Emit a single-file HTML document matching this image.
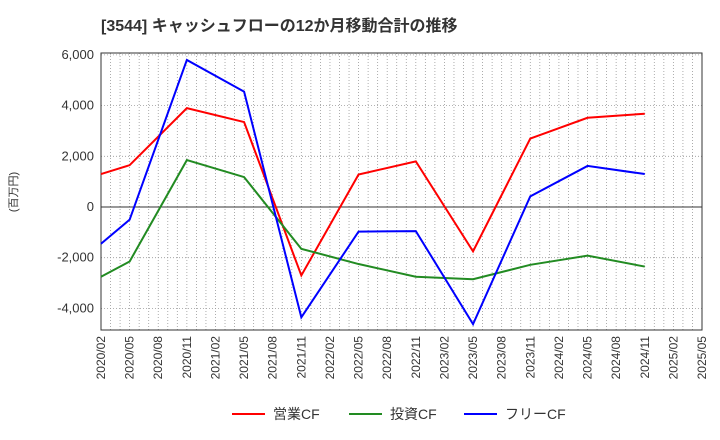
<!DOCTYPE html>
<html><head><meta charset="utf-8"><style>
body{margin:0;background:#fff;}
svg{display:block;font-family:"Liberation Sans","Noto Sans CJK JP",sans-serif;}
</style></head><body>
<svg id="c" width="720" height="440">
<text x="101" y="31" font-size="16" font-weight="bold" fill="#333">[3544]  キャッシュフローの12か月移動合計の推移</text>
<text transform="translate(17,192) rotate(-90)" text-anchor="middle" font-size="11" fill="#333">(百万円)</text>
<g id="grid"></g><g id="axes"></g><g id="series"></g><g id="legend"></g>
</svg>
<script>
const xLabels=["2020/02","2020/05","2020/08","2020/11","2021/02","2021/05","2021/08","2021/11","2022/02","2022/05","2022/08","2022/11","2023/02","2023/05","2023/08","2023/11","2024/02","2024/05","2024/08","2024/11","2025/02","2025/05"];
const yTicks=[6000,4000,2000,0,-2000,-4000];
const pointIdx=[0,1,3,5,7,9,11,13,15,17,19];
const opCF=[1300,1650,3900,3350,-2700,1280,1800,-1750,2700,3520,3680];
const invCF=[-2750,-2150,1850,1180,-1650,-2250,-2750,-2850,-2280,-1920,-2350];
const freeCF=[-1450,-500,5800,4550,-4350,-970,-950,-4620,420,1620,1300];
const seriesNames=["営業CF","投資CF","フリーCF"];
const NS="http://www.w3.org/2000/svg";
const L=101,R=702,T=53,B=330;
const xs=i=>L+i*(R-L)/21;
const ys=v=>207-v*(50.7/2000);
function mk(tag,attrs,parent){const e=document.createElementNS(NS,tag);for(const k in attrs)e.setAttribute(k,attrs[k]);parent.appendChild(e);return e;}
const grid=document.getElementById('grid'),axes=document.getElementById('axes'),ser=document.getElementById('series'),leg=document.getElementById('legend');
for(let m=0;m<=63;m++){const x=L+m*(R-L)/63;const g=mk('line',{x1:x,x2:x,y1:T,y2:B,stroke:'#999','stroke-width':0.8,'stroke-dasharray':'1,2'},grid);

}
yTicks.forEach(v=>{const y=ys(v);const g=mk('line',{x1:L,x2:R,y1:y,y2:y,stroke:v===0?'#333':'#999','stroke-width':v===0?1:0.8,'stroke-dasharray':v===0?'none':'1,2'},grid);


const t=mk('text',{x:L-7,y:y+4,'text-anchor':'end','font-size':13,fill:'#333'},axes);t.textContent=v.toLocaleString('en-US');

});
const fr=mk('rect',{x:L,y:T,width:R-L,height:B-T,fill:'none',stroke:'#333','stroke-width':1},axes);


xLabels.forEach((s,i)=>{const x=xs(i);const t=mk('text',{transform:`translate(${x+4},${B+6}) rotate(-90)`,'text-anchor':'end','font-size':12,fill:'#333'},axes);t.textContent=s;

});
const data=[opCF,invCF,freeCF],cols=['#ff0000','#228b22','#0000ff'],names=['operating-cf-line','investing-cf-line','free-cf-line'];
data.forEach((d,k)=>{const pts=d.map((v,j)=>xs(pointIdx[j])+','+ys(v)).join(' ');
const p=mk('polyline',{points:pts,fill:'none',stroke:cols[k],'stroke-width':2},ser);

});
const lx=[232,349,464];
seriesNames.forEach((n,k)=>{const g=mk('g',{},leg);


mk('line',{x1:lx[k],x2:lx[k]+33,y1:414,y2:414,stroke:cols[k],'stroke-width':2},g);
const t=mk('text',{x:lx[k]+41,y:419,'font-size':14,fill:'#333'},g);t.textContent=n;});
</script>
</body></html>
